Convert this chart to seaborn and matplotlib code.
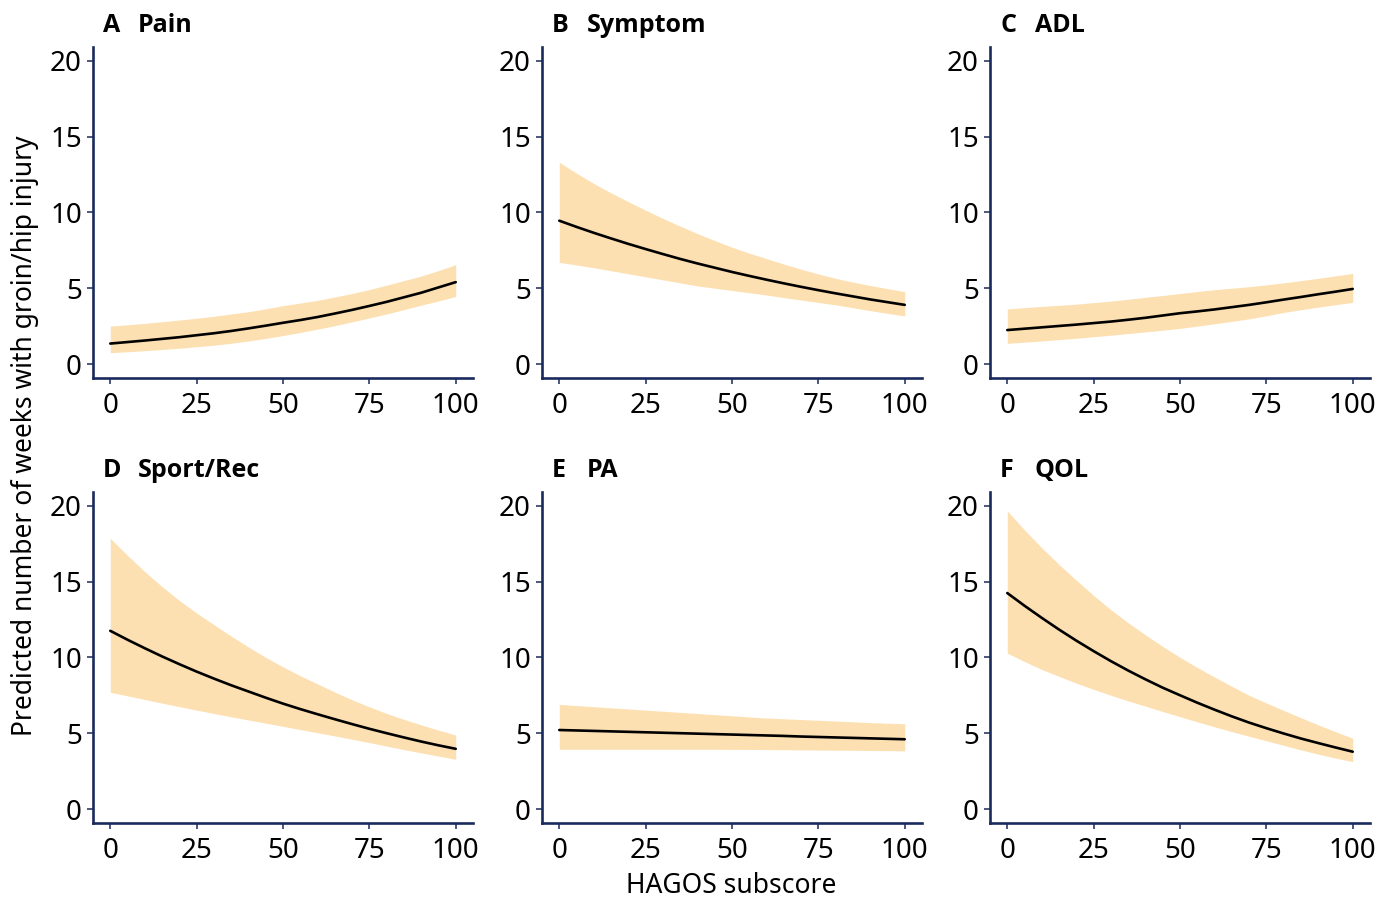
import numpy as np
import pandas as pd
import matplotlib
matplotlib.use("Agg")
import matplotlib.pyplot as plt
import seaborn as sns

# HAGOS subscore grid
hagos = [0, 5, 10, 15, 20, 25, 30, 35, 40, 45, 50, 55, 60, 65, 70, 75, 80, 85, 90, 95, 100]

panel_letters = ["A", "B", "C", "D", "E", "F"]
panel_names = ["Pain", "Symptom", "ADL", "Sport/Rec", "PA", "QOL"]

pain_mean = [1.35, 1.45, 1.55, 1.66, 1.77, 1.90, 2.03, 2.18, 2.35, 2.53, 2.72, 2.90, 3.10, 3.33, 3.57, 3.83, 4.10, 4.40, 4.70, 5.05, 5.40]
pain_lo = [0.75, 0.81, 0.88, 0.96, 1.04, 1.14, 1.24, 1.37, 1.52, 1.69, 1.88, 2.08, 2.30, 2.53, 2.78, 3.04, 3.30, 3.59, 3.88, 4.16, 4.45]
pain_hi = [2.50, 2.59, 2.68, 2.79, 2.90, 3.02, 3.15, 3.30, 3.45, 3.64, 3.85, 4.02, 4.20, 4.42, 4.65, 4.91, 5.20, 5.50, 5.80, 6.16, 6.55]

symptom_mean = [9.45, 9.04, 8.65, 8.28, 7.92, 7.58, 7.25, 6.93, 6.63, 6.35, 6.07, 5.81, 5.56, 5.32, 5.09, 4.87, 4.66, 4.46, 4.26, 4.08, 3.90]
symptom_lo = [6.70, 6.53, 6.35, 6.15, 5.95, 5.75, 5.55, 5.35, 5.15, 5.00, 4.85, 4.70, 4.55, 4.38, 4.22, 4.06, 3.90, 3.71, 3.52, 3.34, 3.17]
symptom_hi = [13.30, 12.58, 11.90, 11.28, 10.70, 10.14, 9.60, 9.09, 8.60, 8.14, 7.70, 7.31, 6.95, 6.59, 6.25, 5.94, 5.65, 5.40, 5.18, 4.97, 4.77]

adl_mean = [2.24, 2.33, 2.42, 2.51, 2.60, 2.70, 2.80, 2.92, 3.05, 3.20, 3.35, 3.47, 3.60, 3.75, 3.90, 4.07, 4.25, 4.42, 4.60, 4.77, 4.95]
adl_lo = [1.36, 1.44, 1.52, 1.61, 1.70, 1.80, 1.90, 2.01, 2.12, 2.23, 2.35, 2.50, 2.65, 2.81, 2.98, 3.18, 3.40, 3.58, 3.75, 3.91, 4.07]
adl_hi = [3.63, 3.72, 3.80, 3.87, 3.95, 4.05, 4.15, 4.27, 4.40, 4.52, 4.65, 4.78, 4.90, 5.00, 5.10, 5.22, 5.35, 5.50, 5.65, 5.81, 5.98]

sport_mean = [11.75, 11.16, 10.60, 10.06, 9.55, 9.06, 8.60, 8.16, 7.75, 7.34, 6.95, 6.59, 6.25, 5.92, 5.60, 5.29, 5.00, 4.72, 4.45, 4.20, 3.97]
sport_lo = [7.70, 7.46, 7.22, 6.98, 6.75, 6.52, 6.30, 6.08, 5.87, 5.66, 5.45, 5.24, 5.03, 4.82, 4.60, 4.38, 4.15, 3.92, 3.70, 3.49, 3.28]
sport_hi = [17.85, 16.72, 15.65, 14.66, 13.75, 12.92, 12.15, 11.40, 10.68, 10.00, 9.37, 8.79, 8.25, 7.71, 7.20, 6.74, 6.30, 5.91, 5.55, 5.20, 4.88]

pa_mean = [5.21, 5.18, 5.15, 5.12, 5.09, 5.06, 5.03, 5.00, 4.97, 4.94, 4.91, 4.88, 4.85, 4.82, 4.78, 4.75, 4.72, 4.69, 4.66, 4.63, 4.60]
pa_lo = [3.94, 3.94, 3.94, 3.94, 3.94, 3.94, 3.94, 3.94, 3.94, 3.94, 3.93, 3.93, 3.92, 3.91, 3.90, 3.89, 3.88, 3.87, 3.86, 3.85, 3.83]
pa_hi = [6.90, 6.82, 6.75, 6.67, 6.60, 6.52, 6.45, 6.37, 6.30, 6.22, 6.15, 6.07, 6.00, 5.95, 5.90, 5.85, 5.80, 5.75, 5.70, 5.66, 5.62]

qol_mean = [14.24, 13.40, 12.60, 11.83, 11.10, 10.41, 9.75, 9.13, 8.55, 8.00, 7.50, 7.01, 6.55, 6.11, 5.70, 5.33, 4.98, 4.65, 4.35, 4.06, 3.78]
qol_lo = [10.28, 9.72, 9.20, 8.74, 8.30, 7.89, 7.50, 7.13, 6.78, 6.43, 6.09, 5.75, 5.42, 5.10, 4.80, 4.50, 4.20, 3.90, 3.62, 3.36, 3.12]
qol_hi = [19.65, 18.40, 17.22, 16.12, 15.08, 14.08, 13.14, 12.28, 11.48, 10.72, 10.00, 9.33, 8.70, 8.09, 7.50, 6.99, 6.50, 6.02, 5.55, 5.10, 4.67]

x_ticks = [0, 25, 50, 75, 100]
y_ticks = [0, 5, 10, 15, 20]
y_label = "Predicted number of weeks with groin/hip injury"
x_label = "HAGOS subscore"

series = [
    (pain_mean, pain_lo, pain_hi),
    (symptom_mean, symptom_lo, symptom_hi),
    (adl_mean, adl_lo, adl_hi),
    (sport_mean, sport_lo, sport_hi),
    (pa_mean, pa_lo, pa_hi),
    (qol_mean, qol_lo, qol_hi),
]

sns.set_theme(style="ticks")
plt.rcParams["font.family"] = ["Noto Sans", "DejaVu Sans"]
plt.rcParams["text.color"] = "black"
plt.rcParams["axes.labelcolor"] = "black"
plt.rcParams["xtick.labelcolor"] = "black"
plt.rcParams["ytick.labelcolor"] = "black"

NAVY = "#1b2a5c"
BAND = "#fde0b2"
TITLE_FONT = ["Open Sans", "DejaVu Sans"]

W, H = 1390, 898
fig = plt.figure(figsize=(W / 100, H / 100), dpi=100)

lefts = [93, 542, 990]
tops = [47, 492]
ax_w = 380
ax_h = 331

for i in range(6):
    r, c = divmod(i, 3)
    left = lefts[c] / W
    bottom = 1 - (tops[r] + ax_h) / H
    ax = fig.add_axes([left, bottom, ax_w / W, ax_h / H])
    m, lo, hi = series[i]
    df = pd.DataFrame({"x": hagos, "mean": m, "lo": lo, "hi": hi})
    ax.fill_between(df["x"], df["lo"], df["hi"], color=BAND, linewidth=0, zorder=1)
    sns.lineplot(data=df, x="x", y="mean", ax=ax, color="black", linewidth=1.9, zorder=3)
    ax.set_xlim(-5, 105)
    ax.set_ylim(-0.92, 20.9)
    ax.set_xticks(x_ticks)
    ax.set_yticks(y_ticks)
    ax.set_xlabel("")
    ax.set_ylabel("")
    for s in ["top", "right"]:
        ax.spines[s].set_visible(False)
    for s in ["left", "bottom"]:
        ax.spines[s].set_color(NAVY)
        ax.spines[s].set_linewidth(1.9)
    ax.tick_params(axis="both", direction="out", length=4, width=1.1, color=NAVY,
                   labelsize=20, labelcolor="black")
    ax.tick_params(axis="y", pad=4)
    ax.tick_params(axis="x", pad=6)
    ax.annotate(panel_letters[i], xy=(0, 1), xycoords="axes fraction",
                xytext=(10, 15), textcoords="offset pixels", family=TITLE_FONT,
                ha="left", va="baseline", fontsize=18, fontweight="bold", color="black")
    ax.annotate(panel_names[i], xy=(0, 1), xycoords="axes fraction",
                xytext=(45, 15), textcoords="offset pixels", family=TITLE_FONT,
                ha="left", va="baseline", fontsize=18, fontweight="bold", color="black")

fig.text(25 / W, 1 - 436 / H, y_label, rotation=90, ha="center", va="center", fontsize=19)
fig.text(731 / W, 1 - 886 / H, x_label, ha="center", va="center", fontsize=19)

fig.savefig("out.png", dpi=100)
